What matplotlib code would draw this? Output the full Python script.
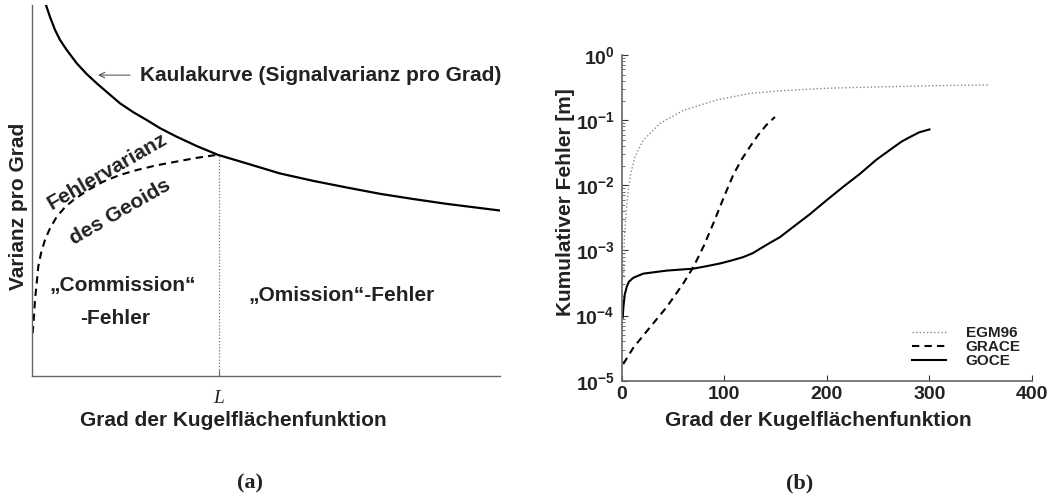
import matplotlib
matplotlib.use('Agg')
import matplotlib.pyplot as plt
from matplotlib.ticker import FixedLocator, FixedFormatter, LogLocator, NullFormatter

plt.rcParams['font.family'] = 'Liberation Sans'
plt.rcParams['font.weight'] = 'bold'
plt.rcParams['axes.labelweight'] = 'bold'
plt.rcParams['mathtext.fontset'] = 'custom'
plt.rcParams['mathtext.bf'] = 'Liberation Sans:bold'
plt.rcParams['mathtext.rm'] = 'Liberation Sans:bold'

TXT = '#222222'
SPINE = '#666666'

# --- (a) schematische Darstellung, Achsen 0..100 ---
kaula_x = [3.05, 3.91, 4.98, 6.04, 7.47, 9.61, 11.74, 13.88, 16.36, 18.86, 21.7, 24.56,
           27.4, 30.96, 35.2, 39.8, 45.9, 53.0, 60.1, 67.3, 74.4, 81.5, 88.6, 100]
kaula_y = [100, 96.8, 93.3, 90.6, 87.9, 84.3, 81.4, 78.9, 76.2, 73.5, 71.1, 69.0,
           66.8, 64.5, 62.0, 59.6, 57.3, 54.6, 52.6, 50.8, 49.1, 47.7, 46.4, 44.6]
fehler_x = [0.21, 0.49, 0.70, 1.07, 1.41, 1.99, 2.84, 3.91, 5.34, 7.11, 8.88, 11.74,
            15.29, 18.86, 22.42, 26.69, 30.96, 35.23, 39.5]
fehler_y = [11.5, 16.0, 20.5, 25.0, 29.5, 33.1, 36.7, 39.8, 42.9, 45.5, 47.4, 49.9,
            52.4, 54.2, 55.5, 56.8, 57.8, 58.8, 59.6]
L_grad = 40
L_var = 59.6

# --- (b) kumulativer Fehler [m] ---
egm_n = [2.0, 2.5, 4.2, 6.4, 8.8, 13, 21, 37.3, 60, 92.6, 125, 154, 200, 250, 310, 359]
egm_f = [4.0e-4, 1.4e-3, 3.6e-3, 8.3e-3, 1.5e-2, 2.75e-2, 4.9e-2, 8.9e-2, 0.141, 0.204,
         0.257, 0.282, 0.309, 0.324, 0.339, 0.347]
grace_n = [1.5, 11.3, 27.6, 43.9, 60, 70, 80, 90, 100, 108.8, 117, 125, 133, 141.3, 149.4]
grace_f = [1.8e-5, 3.2e-5, 6.6e-5, 1.35e-4, 3.1e-4, 5.6e-4, 1.17e-3, 2.75e-3, 6.8e-3,
           1.45e-2, 2.5e-2, 3.9e-2, 5.9e-2, 8.5e-2, 0.112]
goce_n = [1.0, 1.7, 3.0, 4.9, 7.0, 11.3, 21, 43.9, 69.8, 82, 95.8, 107, 118.5, 128,
          136.5, 145, 154.3, 167.3, 183, 199.8, 216, 232.3, 248, 264.7, 273, 281, 290, 300]
goce_f = [9.3e-5, 1.35e-4, 2.1e-4, 2.75e-4, 3.3e-4, 3.8e-4, 4.4e-4, 4.9e-4, 5.25e-4,
          5.7e-4, 6.3e-4, 7.0e-4, 7.9e-4, 9.1e-4, 1.1e-3, 1.32e-3, 1.6e-3, 2.3e-3,
          3.55e-3, 5.9e-3, 9.5e-3, 1.5e-2, 2.45e-2, 3.8e-2, 4.7e-2, 5.5e-2, 6.5e-2, 7.2e-2]

x_ticks = [0, 100, 200, 300, 400]
y_ticks = [1e-5, 1e-4, 1e-3, 1e-2, 1e-1, 1e0]
y_ticklabels = [r'$\mathbf{10^{-5}}$', r'$\mathbf{10^{-4}}$', r'$\mathbf{10^{-3}}$',
                r'$\mathbf{10^{-2}}$', r'$\mathbf{10^{-1}}$', r'$\mathbf{10^{0}}$']

fig = plt.figure(figsize=(10.56, 5.0), dpi=100)
ax1 = fig.add_axes([0.030, 0.248, 0.4435, 0.742])
ax2 = fig.add_axes([0.5887, 0.2386, 0.3886, 0.6514])

# ── Panel (a) ──
ax1.plot(kaula_x, kaula_y, color='black', lw=1.6, solid_joinstyle='round')
ax1.plot(fehler_x, fehler_y, color='black', lw=1.5, dashes=(3.5, 2.5))
ax1.plot([L_grad, L_grad], [0, L_var], color='#777777', lw=0.9, ls=(0, (1, 1.5)))
ax1.set_xlim(0, 100)
ax1.set_ylim(0, 100)
for s in ('top', 'right'):
    ax1.spines[s].set_visible(False)
for s in ('left', 'bottom'):
    ax1.spines[s].set_color(SPINE)
    ax1.spines[s].set_linewidth(1.0)
ax1.set_yticks([])
ax1.set_xticks([L_grad])
ax1.set_xticklabels(['L'], family='Liberation Serif', style='italic', weight='normal',
                    fontsize=14, color=TXT)
ax1.tick_params(axis='x', direction='in', length=4, color=SPINE, pad=10)

ax1.set_xlabel('Grad der Kugelflächenfunktion', fontsize=15, color=TXT, va='center')
ax1.xaxis.set_label_coords(0.43, -0.12)
ax1.set_ylabel('Varianz pro Grad', fontsize=15, color=TXT, va='center')
ax1.yaxis.set_label_coords(-0.028, 0.456)

ax1.annotate('', xy=(14.2, 81.1), xytext=(21.0, 81.1),
             arrowprops=dict(arrowstyle='->', lw=0.7, color='#444444',
                             shrinkA=0, shrinkB=0))
ax1.text(23.1, 81.1, 'Kaulakurve (Signalvarianz pro Grad)', fontsize=15, color=TXT,
         va='center', ha='left')
ax1.text(16.2, 55.1, 'Fehlervarianz', fontsize=15, color=TXT, rotation=30,
         ha='center', va='center', rotation_mode='anchor')
ax1.text(18.9, 44.3, 'des Geoids', fontsize=15, color=TXT, rotation=30,
         ha='center', va='center', rotation_mode='anchor')
ax1.text(19.5, 24.5, '„Commission“', fontsize=15, color=TXT, ha='center', va='center')
ax1.text(17.8, 15.6, '-Fehler', fontsize=15, color=TXT, ha='center', va='center')
ax1.text(66.1, 21.6, '„Omission“-Fehler', fontsize=15, color=TXT, ha='center', va='center')

# ── Panel (b) ──
ax2.semilogy(egm_n, egm_f, color='#888888', lw=1.0, ls=(0, (1, 1.6)), label='EGM96')
ax2.semilogy(grace_n, grace_f, color='black', lw=1.5, dashes=(3.5, 2.5), label='GRACE')
ax2.semilogy(goce_n, goce_f, color='black', lw=1.5, label='GOCE')
ax2.set_xlim(0, 400)
ax2.set_ylim(1e-5, 1)
for s in ('top', 'right'):
    ax2.spines[s].set_visible(False)
for s in ('left', 'bottom'):
    ax2.spines[s].set_color(SPINE)
    ax2.spines[s].set_linewidth(1.2)
ax2.xaxis.set_major_locator(FixedLocator(x_ticks))
ax2.yaxis.set_major_locator(FixedLocator(y_ticks))
ax2.yaxis.set_major_formatter(FixedFormatter(y_ticklabels))
ax2.yaxis.set_minor_locator(LogLocator(base=10, subs=range(2, 10), numticks=20))
ax2.yaxis.set_minor_formatter(NullFormatter())
ax2.tick_params(axis='both', which='major', direction='in', length=4, color='#333333',
                labelcolor=TXT)
ax2.tick_params(axis='y', which='minor', direction='in', length=2, color='#555555')
ax2.tick_params(axis='x', labelsize=14, pad=4)
ax2.tick_params(axis='y', labelsize=14, pad=5)

ax2.set_xlabel('Grad der Kugelflächenfunktion', fontsize=15, color=TXT, va='center')
ax2.xaxis.set_label_coords(0.478, -0.121)
ax2.set_ylabel('Kumulativer Fehler [m]', fontsize=15, color=TXT, va='center')
ax2.yaxis.set_label_coords(-0.138, 0.549)

ax2.legend(loc='upper left', bbox_to_anchor=(0.856, 0.363), bbox_transform=fig.transFigure,
           frameon=False, fontsize=11, labelspacing=0.0, handlelength=2.25,
           handletextpad=1.3, borderpad=0, labelcolor=TXT)

fig.text(0.2367, 0.034, '(a)', family='Liberation Serif', weight='bold', fontsize=16,
         ha='center', va='center', color=TXT)
fig.text(0.7576, 0.034, '(b)', family='Liberation Serif', weight='bold', fontsize=16,
         ha='center', va='center', color=TXT)

fig.savefig('out.png', dpi=100, facecolor='white')
plt.close(fig)
